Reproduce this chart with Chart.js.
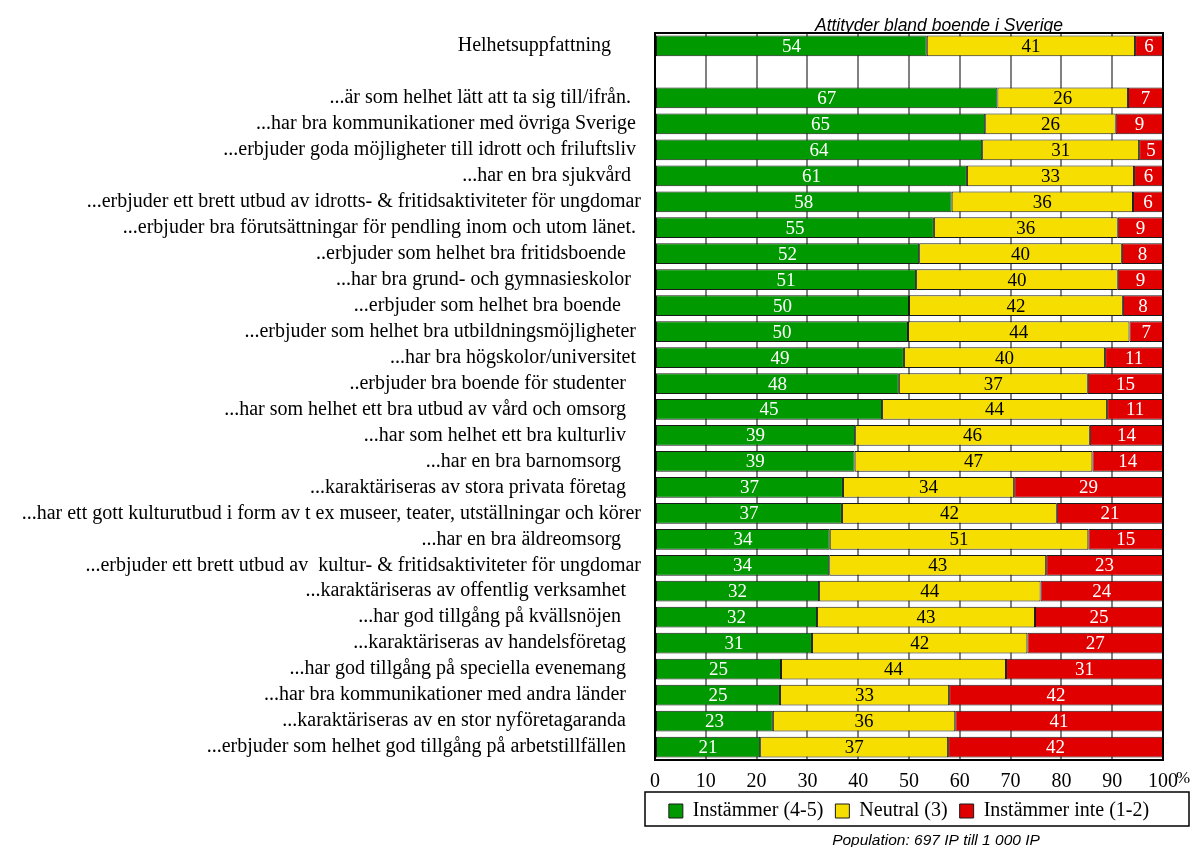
<!DOCTYPE html>
<html lang="sv">
<head>
<meta charset="utf-8">
<title>Attityder bland boende i Sverige</title>
<script src="https://cdn.jsdelivr.net/npm/chart.js@4/dist/chart.umd.min.js"></script>
<style>
    html, body { margin: 0; padding: 0; background: #fff; }
    #grafico { display: block; }
</style>
</head>
<body>
<canvas id="grafico" width="1192" height="847"></canvas>
<script>
// Dados do gráfico (andelar i procent)
const kategorier = [
    'Helhetsuppfattning      ',
    '',
    '...är som helhet lätt att ta sig till/ifrån.  ',
    '...har bra kommunikationer med övriga Sverige ',
    '...erbjuder goda möjligheter till idrott och friluftsliv ',
    '...har en bra sjukvård  ',
    '...erbjuder ett brett utbud av idrotts- & fritidsaktiviteter för ungdomar',
    '...erbjuder bra förutsättningar för pendling inom och utom länet. ',
    '..erbjuder som helhet bra fritidsboende   ',
    '...har bra grund- och gymnasieskolor  ',
    '...erbjuder som helhet bra boende    ',
    '...erbjuder som helhet bra utbildningsmöjligheter ',
    '...har bra högskolor/universitet ',
    '..erbjuder bra boende för studenter   ',
    '...har som helhet ett bra utbud av vård och omsorg   ',
    '...har som helhet ett bra kulturliv   ',
    '...har en bra barnomsorg    ',
    '...karaktäriseras av stora privata företag   ',
    '...har ett gott kulturutbud i form av t ex museer, teater, utställningar och körer',
    '...har en bra äldreomsorg    ',
    '...erbjuder ett brett utbud av  kultur- & fritidsaktiviteter för ungdomar',
    '...karaktäriseras av offentlig verksamhet   ',
    '...har god tillgång på kvällsnöjen    ',
    '...karaktäriseras av handelsföretag   ',
    '...har god tillgång på speciella evenemang   ',
    '...har bra kommunikationer med andra länder   ',
    '...karaktäriseras av en stor nyföretagaranda   ',
    '...erbjuder som helhet god tillgång på arbetstillfällen   '
];

const instammer = [53.5, null, 67.4, 65.0, 64.4, 61.4, 58.4, 54.9, 52.0, 51.4, 50.0, 49.8, 49.0, 48.0,
    44.7, 39.4, 39.3, 37.0, 36.8, 34.4, 34.3, 32.3, 31.9, 30.9, 24.8, 24.6, 23.2, 20.7];
const neutral = [41.0, null, 25.7, 25.7, 30.9, 32.9, 35.7, 36.2, 39.9, 39.7, 42.1, 43.6, 39.6, 37.2,
    44.3, 46.2, 46.8, 33.7, 42.3, 50.9, 42.7, 43.6, 42.9, 42.4, 44.3, 33.3, 35.9, 37.0];
const instammerInte = [5.5, null, 6.9, 9.3, 4.7, 5.7, 5.9, 8.9, 8.1, 8.9, 7.9, 6.6, 11.4, 14.8,
    11.0, 14.4, 13.9, 29.3, 20.9, 14.7, 23.0, 24.1, 25.2, 26.7, 30.9, 42.1, 40.9, 42.3];

const serier = ['Instämmer (4-5)', 'Neutral (3)', 'Instämmer inte (1-2)'];
const tickEtiketter = [0, 10, 20, 30, 40, 50, 60, 70, 80, 90, 100];

const titel = 'Attityder bland boende i Sverige';
const fotnot = 'Population: 697 IP till 1 000 IP';

// Estilos
const SERIF = '"Liberation Serif", "Times New Roman", serif';
const SANS = '"Liberation Sans", Arial, sans-serif';
const cores = ['#009900', '#f5de00', '#e00000'];
const corTexto = ['#ffffff', '#000000', '#ffffff'];

// Título (cortado pela borda superior da área do gráfico)
const tituloPlugin = {
    id: 'titulo',
    beforeDatasetsDraw(chart) {
        const { ctx, chartArea } = chart;
        ctx.save();
        ctx.beginPath();
        ctx.rect(0, 0, chart.width, chartArea.top);
        ctx.clip();
        ctx.fillStyle = '#000';
        ctx.font = `italic 17.5px ${SANS}`;
        ctx.textAlign = 'center';
        ctx.textBaseline = 'alphabetic';
        ctx.fillText(titel, (chartArea.left + chartArea.right) / 2 + 30, chartArea.top - 2.5);
        ctx.restore();
    }
};

// Rótulos de valor dentro das barras
const rotulosPlugin = {
    id: 'rotulos',
    afterDatasetsDraw(chart) {
        const ctx = chart.ctx;
        ctx.save();
        ctx.font = `19px ${SERIF}`;
        ctx.textAlign = 'center';
        ctx.textBaseline = 'middle';
        chart.data.datasets.forEach((ds, i) => {
            const meta = chart.getDatasetMeta(i);
            meta.data.forEach((bar, j) => {
                const v = ds.data[j];
                if (v == null) return;
                ctx.fillStyle = corTexto[i];
                ctx.fillText(String(Math.round(v)), (bar.x + bar.base) / 2, bar.y + 1);
            });
        });
        ctx.restore();
    }
};

// Moldura da área do gráfico, "%", caixa da legenda e nota de rodapé
const molduraPlugin = {
    id: 'moldura',
    afterDraw(chart) {
        const { ctx, chartArea, legend } = chart;
        const xScale = chart.scales.x;
        ctx.save();
        ctx.strokeStyle = '#000';
        ctx.lineWidth = 2;
        ctx.strokeRect(chartArea.left, chartArea.top, chartArea.right - chartArea.left, chartArea.bottom - chartArea.top);

        ctx.fillStyle = '#000';
        ctx.font = `17px ${SERIF}`;
        ctx.textAlign = 'left';
        ctx.textBaseline = 'top';
        ctx.fillText('%', chartArea.right + 13, xScale.top + 10);

        ctx.lineWidth = 1.5;
        ctx.strokeRect(chartArea.left - 10, legend.top + 3, chartArea.right - chartArea.left + 36, legend.height - 8);

        ctx.font = `italic 15.5px ${SANS}`;
        ctx.textAlign = 'center';
        ctx.textBaseline = 'alphabetic';
        ctx.fillText(fotnot, (chartArea.left + chartArea.right) / 2 + 27, chart.height - 2);
        ctx.restore();
    }
};

function criarGrafico() {
    const ctx = document.getElementById('grafico').getContext('2d');
    const valores = [instammer, neutral, instammerInte];

    return new Chart(ctx, {
        type: 'bar',
        data: {
            labels: kategorier,
            datasets: serier.map((nome, i) => ({
                label: nome,
                data: valores[i],
                backgroundColor: cores[i],
                borderColor: '#1a1a1a',
                borderWidth: 1,
                borderSkipped: false,
                barPercentage: 0.8,
                categoryPercentage: 1.0
            }))
        },
        options: {
            indexAxis: 'y',
            responsive: false,
            animation: false,
            layout: { padding: { left: 0, right: 29, top: 33, bottom: 16 } },
            scales: {
                x: {
                    stacked: true,
                    min: 0,
                    max: 100,
                    afterBuildTicks: (scale) => {
                        scale.ticks = tickEtiketter.map(v => ({ value: v }));
                    },
                    afterFit: (scale) => { scale.height = 29; },
                    ticks: {
                        color: '#000',
                        font: { family: SERIF, size: 20 },
                        padding: 10,
                        maxRotation: 0
                    },
                    grid: { color: '#808080', lineWidth: 2, drawTicks: false },
                    border: { display: true, color: '#000', width: 2 }
                },
                y: {
                    stacked: true,
                    afterFit: (scale) => { scale.width = 655; },
                    ticks: {
                        color: '#000',
                        font: { family: SERIF, size: 20 },
                        padding: 14,
                        autoSkip: false
                    },
                    grid: { display: false, drawTicks: false },
                    border: { display: true, color: '#000', width: 2 }
                }
            },
            plugins: {
                title: { display: false },
                legend: {
                    position: 'bottom',
                    fullSize: false,
                    labels: {
                        color: '#000',
                        font: { family: SERIF, size: 20 },
                        boxWidth: 14,
                        boxHeight: 14,
                        padding: 12
                    }
                },
                tooltip: { enabled: false }
            }
        },
        plugins: [tituloPlugin, rotulosPlugin, molduraPlugin]
    });
}

document.addEventListener('DOMContentLoaded', () => {
    criarGrafico();
});
</script>
</body>
</html>
